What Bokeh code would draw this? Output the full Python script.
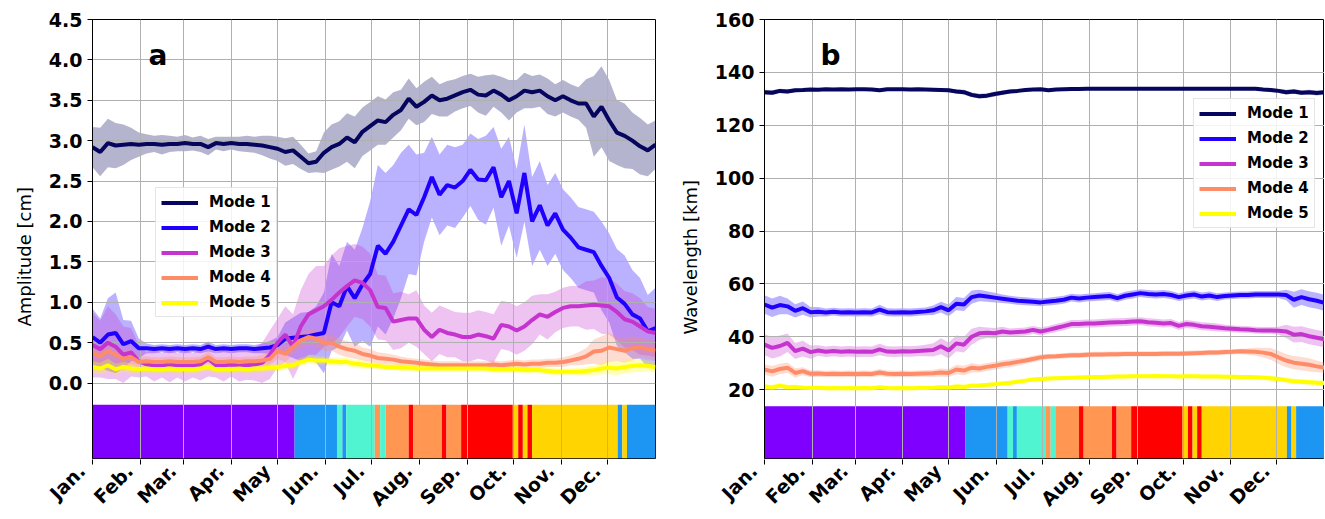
import math
import numpy as np
from bokeh.plotting import figure
from bokeh.layouts import row, column
from bokeh.models import (ColumnDataSource, FixedTicker, PrintfTickFormatter,
                          Legend, LegendItem, Label, Range1d, Title)
from bokeh.embed import file_html
from bokeh.resources import INLINE

# ---------------- data ----------------
DAYS = list(range(0, 366, 5))          # day of year, sampled every 5 days
MONTH_START = [0, 31, 59, 90, 120, 151, 181, 212, 243, 273, 304, 334]
MONTH_LABELS = ["Jan.", "Feb.", "Mar.", "Apr.", "May", "Jun.", "Jul.",
                "Aug.", "Sep.", "Oct.", "Nov.", "Dec."]
MODE_NAMES = ["Mode 1", "Mode 2", "Mode 3", "Mode 4", "Mode 5"]
MODE_COLORS = ["#06065e", "#1f00ff", "#c634cf", "#ff8c69", "#ffff00"]

Y_TICKS_A = [0.0, 0.5, 1.0, 1.5, 2.0, 2.5, 3.0, 3.5, 4.0, 4.5]
Y_TICKS_B = [20, 40, 60, 80, 100, 120, 140, 160]

# regime strip (day boundaries and class of each segment)
REGIME_EDGES = [0, 131, 158.5, 162, 164.5, 183, 186.5, 190, 205, 208, 226.5,
                229.5, 239, 272.5, 276, 279, 282, 285, 340.5, 343.5, 346.5, 365]
REGIME_CLASS = ["P", "B", "A", "B", "A", "O", "A", "O", "R", "O", "R",
                "O", "R", "G", "R", "G", "R", "G", "B", "G", "B"]
REGIME_COLORS = {"P": "#8000ff", "B": "#1c96f2", "A": "#50f4d0",
                 "O": "#ff9652", "R": "#ff0000", "G": "#ffd400"}

# ---- panel a: amplitude [cm] (mean and spread) ----
amp_m1 = [2.92, 2.86, 2.97, 2.94, 2.95, 2.96, 2.95, 2.96, 2.96, 2.95,
          2.96, 2.96, 2.97, 2.96, 2.96, 2.92, 2.97, 2.96, 2.97, 2.96,
          2.96, 2.95, 2.94, 2.92, 2.90, 2.86, 2.88, 2.80, 2.72, 2.74,
          2.85, 2.92, 2.96, 3.04, 2.98, 3.11, 3.18, 3.25, 3.23, 3.32,
          3.38, 3.52, 3.42, 3.48, 3.56, 3.50, 3.52, 3.56, 3.60, 3.63,
          3.57, 3.56, 3.62, 3.57, 3.50, 3.55, 3.62, 3.60, 3.62, 3.55,
          3.50, 3.55, 3.50, 3.46, 3.46, 3.30, 3.42, 3.25, 3.10, 3.06,
          3.00, 2.93, 2.88, 2.95]
amp_s1 = [0.25, 0.30, 0.30, 0.28, 0.25, 0.20, 0.15, 0.12, 0.10, 0.12,
          0.10, 0.09, 0.10, 0.08, 0.10, 0.10, 0.08, 0.09, 0.08, 0.09,
          0.10, 0.10, 0.12, 0.14, 0.15, 0.17, 0.17, 0.15, 0.12, 0.13,
          0.25, 0.28, 0.28, 0.30, 0.32, 0.30, 0.30, 0.30, 0.28, 0.28,
          0.25, 0.25, 0.23, 0.25, 0.23, 0.20, 0.22, 0.20, 0.20, 0.20,
          0.22, 0.25, 0.20, 0.22, 0.25, 0.20, 0.22, 0.20, 0.20, 0.22,
          0.20, 0.20, 0.20, 0.20, 0.30, 0.50, 0.50, 0.50, 0.40, 0.40,
          0.35, 0.35, 0.32, 0.30]
amp_m2 = [0.57, 0.50, 0.60, 0.62, 0.48, 0.52, 0.43, 0.43, 0.42, 0.43,
          0.42, 0.43, 0.42, 0.43, 0.42, 0.45, 0.42, 0.43, 0.42, 0.43,
          0.43, 0.42, 0.43, 0.44, 0.47, 0.55, 0.56, 0.57, 0.58, 0.60,
          0.62, 1.00, 0.95, 1.20, 1.05, 1.22, 1.35, 1.70, 1.60, 1.75,
          1.95, 2.15, 2.08, 2.30, 2.55, 2.33, 2.45, 2.42, 2.50, 2.64,
          2.52, 2.51, 2.67, 2.30, 2.50, 2.10, 2.60, 2.00, 2.20, 1.95,
          2.10, 1.90, 1.80, 1.68, 1.65, 1.62, 1.45, 1.30, 1.06, 0.98,
          0.85, 0.80, 0.64, 0.68]
amp_s2 = [0.35, 0.30, 0.45, 0.50, 0.30, 0.25, 0.12, 0.06, 0.05, 0.05,
          0.05, 0.05, 0.05, 0.05, 0.05, 0.06, 0.05, 0.05, 0.05, 0.05,
          0.05, 0.05, 0.06, 0.08, 0.10, 0.20, 0.25, 0.30, 0.30, 0.35,
          0.50, 0.60, 0.50, 0.55, 0.60, 0.70, 0.90, 1.00, 1.00, 0.95,
          0.90, 0.80, 0.75, 0.55, 0.50, 0.50, 0.50, 0.50, 0.45, 0.45,
          0.50, 0.55, 0.50, 0.60, 0.55, 0.55, 0.60, 0.55, 0.55, 0.50,
          0.50, 0.50, 0.50, 0.50, 0.50, 0.50, 0.55, 0.55, 0.60, 0.60,
          0.55, 0.50, 0.45, 0.50]
amp_m3 = [0.47, 0.42, 0.50, 0.45, 0.35, 0.38, 0.27, 0.23, 0.22, 0.22,
          0.23, 0.22, 0.22, 0.22, 0.23, 0.30, 0.22, 0.22, 0.23, 0.22,
          0.22, 0.23, 0.25, 0.35, 0.50, 0.60, 0.45, 0.70, 0.85, 0.90,
          0.95, 1.03, 1.12, 1.20, 1.27, 1.24, 1.15, 0.94, 0.93, 0.76,
          0.78, 0.80, 0.80, 0.66, 0.57, 0.66, 0.62, 0.60, 0.57, 0.57,
          0.60, 0.58, 0.55, 0.72, 0.70, 0.65, 0.70, 0.78, 0.85, 0.82,
          0.88, 0.93, 0.95, 0.95, 0.96, 0.97, 0.96, 0.95, 0.88, 0.79,
          0.76, 0.70, 0.64, 0.62]
amp_s3 = [0.40, 0.35, 0.45, 0.40, 0.35, 0.30, 0.20, 0.15, 0.20, 0.15,
          0.22, 0.15, 0.20, 0.15, 0.20, 0.22, 0.15, 0.20, 0.15, 0.20,
          0.18, 0.20, 0.25, 0.30, 0.30, 0.35, 0.40, 0.45, 0.50, 0.55,
          0.50, 0.55, 0.55, 0.50, 0.45, 0.45, 0.45, 0.40, 0.40, 0.35,
          0.35, 0.30, 0.35, 0.30, 0.30, 0.30, 0.30, 0.28, 0.30, 0.30,
          0.30, 0.30, 0.30, 0.30, 0.30, 0.30, 0.30, 0.30, 0.25, 0.28,
          0.25, 0.25, 0.25, 0.25, 0.30, 0.30, 0.35, 0.35, 0.35, 0.35,
          0.35, 0.35, 0.30, 0.30]
amp_m4 = [0.38, 0.33, 0.40, 0.35, 0.30, 0.32, 0.26, 0.27, 0.26, 0.26,
          0.27, 0.26, 0.26, 0.26, 0.27, 0.32, 0.26, 0.26, 0.27, 0.26,
          0.27, 0.27, 0.28, 0.30, 0.40, 0.36, 0.45, 0.53, 0.57, 0.55,
          0.50, 0.50, 0.45, 0.42, 0.40, 0.36, 0.34, 0.31, 0.30, 0.29,
          0.27, 0.26, 0.25, 0.24, 0.23, 0.22, 0.22, 0.22, 0.22, 0.22,
          0.22, 0.22, 0.23, 0.22, 0.23, 0.24, 0.23, 0.24, 0.24, 0.25,
          0.25, 0.26, 0.28, 0.30, 0.33, 0.39, 0.40, 0.44, 0.42, 0.40,
          0.43, 0.44, 0.42, 0.40]
amp_s4 = [0.12, 0.12, 0.14, 0.12, 0.10, 0.10, 0.07, 0.06, 0.06, 0.06,
          0.06, 0.06, 0.06, 0.06, 0.06, 0.07, 0.06, 0.06, 0.06, 0.06,
          0.06, 0.06, 0.07, 0.08, 0.10, 0.10, 0.10, 0.10, 0.10, 0.10,
          0.10, 0.10, 0.10, 0.10, 0.10, 0.08, 0.08, 0.07, 0.07, 0.06,
          0.06, 0.05, 0.05, 0.05, 0.05, 0.05, 0.05, 0.05, 0.05, 0.05,
          0.05, 0.05, 0.05, 0.05, 0.05, 0.05, 0.05, 0.05, 0.05, 0.05,
          0.05, 0.06, 0.06, 0.08, 0.10, 0.15, 0.18, 0.18, 0.15, 0.15,
          0.15, 0.12, 0.12, 0.12]
amp_m5 = [0.20, 0.18, 0.22, 0.17, 0.20, 0.18, 0.17, 0.18, 0.17, 0.17,
          0.18, 0.17, 0.17, 0.17, 0.18, 0.20, 0.17, 0.17, 0.17, 0.18,
          0.17, 0.18, 0.18, 0.19, 0.20, 0.21, 0.22, 0.26, 0.29, 0.28,
          0.28, 0.27, 0.26, 0.26, 0.24, 0.23, 0.22, 0.21, 0.20, 0.20,
          0.19, 0.19, 0.18, 0.18, 0.18, 0.18, 0.18, 0.18, 0.18, 0.18,
          0.18, 0.18, 0.17, 0.17, 0.17, 0.17, 0.16, 0.16, 0.16, 0.15,
          0.14, 0.14, 0.14, 0.14, 0.15, 0.16, 0.18, 0.19, 0.18, 0.20,
          0.21, 0.22, 0.21, 0.20]
amp_s5 = [0.07, 0.07, 0.08, 0.07, 0.06, 0.06, 0.05, 0.05, 0.05, 0.05,
          0.05, 0.05, 0.05, 0.05, 0.05, 0.05, 0.05, 0.05, 0.05, 0.05,
          0.05, 0.05, 0.05, 0.05, 0.05, 0.05, 0.05, 0.05, 0.05, 0.05,
          0.05, 0.05, 0.05, 0.05, 0.05, 0.05, 0.04, 0.04, 0.04, 0.04,
          0.04, 0.04, 0.04, 0.04, 0.04, 0.04, 0.04, 0.04, 0.04, 0.04,
          0.04, 0.04, 0.04, 0.04, 0.04, 0.04, 0.04, 0.04, 0.04, 0.04,
          0.04, 0.04, 0.04, 0.05, 0.05, 0.06, 0.07, 0.08, 0.08, 0.08,
          0.08, 0.08, 0.07, 0.07]

# ---- panel b: wavelength [km] (mean and spread) ----
wl_m1 = [132.5, 132.3, 133.0, 132.8, 133.2, 133.3, 133.5, 133.4, 133.6, 133.5,
         133.6, 133.5, 133.6, 133.6, 133.5, 133.2, 133.6, 133.6, 133.6, 133.5,
         133.6, 133.5, 133.4, 133.3, 133.2, 132.8, 132.5, 131.5, 131.0, 131.2,
         131.8, 132.3, 132.8, 133.0, 133.3, 133.5, 133.6, 133.2, 133.5, 133.6,
         133.7, 133.7, 133.8, 133.8, 133.8, 133.8, 133.8, 133.8, 133.8, 133.8,
         133.8, 133.8, 133.8, 133.8, 133.8, 133.8, 133.8, 133.8, 133.8, 133.8,
         133.8, 133.8, 133.8, 133.8, 133.8, 133.5, 133.3, 133.0, 132.5, 132.8,
         132.3, 132.5, 132.2, 132.5]
wl_s1 = [0.9, 0.9, 0.8, 0.8, 0.7, 0.6, 0.5, 0.5, 0.5, 0.5,
         0.5, 0.5, 0.5, 0.5, 0.5, 0.5, 0.5, 0.5, 0.5, 0.5,
         0.5, 0.5, 0.6, 0.6, 0.7, 0.8, 0.9, 0.9, 0.9, 0.9,
         0.9, 0.8, 0.7, 0.6, 0.5, 0.5, 0.5, 0.5, 0.5, 0.4,
         0.4, 0.4, 0.4, 0.4, 0.4, 0.4, 0.4, 0.4, 0.4, 0.4,
         0.4, 0.4, 0.4, 0.4, 0.4, 0.4, 0.4, 0.4, 0.4, 0.4,
         0.4, 0.4, 0.4, 0.4, 0.5, 0.6, 0.7, 0.8, 0.9, 0.9,
         0.9, 0.9, 0.9, 0.9]
wl_m2 = [52.2, 51.0, 52.0, 51.5, 49.8, 50.8, 49.3, 49.5, 49.2, 49.5,
         49.2, 49.3, 49.2, 49.3, 49.2, 50.3, 49.3, 49.2, 49.3, 49.2,
         49.4, 49.6, 50.0, 51.2, 50.0, 52.5, 52.2, 55.0, 55.6, 55.2,
         54.8, 54.4, 54.0, 53.6, 53.4, 53.2, 53.0, 53.3, 53.6, 54.0,
         54.8, 54.5, 54.8, 55.0, 55.2, 55.4, 54.6, 55.5, 56.0, 56.5,
         56.2, 56.0, 56.2, 55.8, 55.0, 55.6, 56.0, 55.2, 55.6, 55.0,
         55.4, 55.6, 55.8, 55.8, 56.0, 56.0, 56.0, 56.0, 55.8, 54.0,
         55.0, 54.2, 53.6, 52.8]
wl_s2 = [3.5, 3.5, 3.5, 3.0, 2.5, 2.5, 2.0, 1.8, 1.5, 1.5,
         1.5, 1.5, 1.5, 1.5, 1.5, 1.8, 1.5, 1.5, 1.5, 1.5,
         1.5, 1.5, 1.8, 2.0, 2.2, 2.5, 2.5, 2.5, 2.2, 2.0,
         1.8, 1.6, 1.5, 1.5, 1.5, 1.5, 1.5, 1.5, 1.5, 1.5,
         1.5, 1.5, 1.5, 1.5, 1.5, 1.5, 1.5, 1.5, 1.5, 1.5,
         1.5, 1.5, 1.5, 1.5, 1.5, 1.5, 1.5, 1.5, 1.5, 1.5,
         1.3, 1.3, 1.3, 1.3, 1.3, 1.3, 1.3, 1.3, 2.0, 3.0,
         3.0, 3.0, 3.0, 3.0]
wl_m3 = [37.0, 35.8, 36.5, 37.7, 34.6, 35.5, 34.2, 34.8, 34.3, 34.6,
         34.3, 34.5, 34.3, 34.4, 34.3, 35.2, 34.4, 34.3, 34.5, 34.4,
         34.6, 34.8, 35.0, 36.4, 34.8, 37.5, 37.0, 40.0, 41.3, 41.5,
         41.3, 42.0, 41.6, 41.8, 42.0, 42.6, 42.0, 42.6, 43.3, 44.0,
         44.8, 44.8, 45.0, 45.0, 45.2, 45.4, 45.5, 45.6, 45.8, 45.9,
         45.5, 45.3, 45.0, 45.2, 44.1, 44.8, 44.5, 44.0, 43.8, 43.5,
         43.2, 43.0, 42.8, 42.7, 42.5, 42.4, 42.4, 42.3, 42.0, 40.8,
         41.0, 40.2, 39.6, 39.0]
wl_s3 = [4.0, 4.0, 4.0, 3.5, 3.0, 3.0, 2.5, 2.0, 2.0, 2.0,
         2.0, 2.0, 2.0, 2.0, 2.0, 2.2, 2.0, 2.0, 2.0, 2.0,
         2.0, 2.2, 2.5, 3.0, 3.0, 3.0, 3.0, 3.0, 2.5, 2.0,
         2.0, 1.8, 1.5, 1.5, 1.5, 1.5, 1.5, 1.5, 1.5, 1.5,
         1.5, 1.5, 1.5, 1.5, 1.5, 1.5, 1.5, 1.5, 1.5, 1.5,
         1.5, 1.5, 1.5, 1.5, 1.5, 1.5, 1.5, 1.5, 1.5, 1.5,
         1.3, 1.3, 1.3, 1.3, 1.3, 1.3, 1.3, 1.5, 2.5, 3.0,
         3.0, 3.0, 3.0, 3.0]
wl_m4 = [27.6, 26.9, 27.8, 28.3, 26.3, 27.0, 26.0, 26.1, 25.9, 26.0,
         25.9, 26.0, 25.9, 26.0, 25.9, 26.5, 26.0, 25.9, 26.0, 25.9,
         26.0, 26.1, 26.2, 26.5, 26.3, 27.6, 27.2, 28.3, 28.0, 28.6,
         29.0, 29.6, 30.0, 30.5, 31.0, 31.6, 32.2, 32.5, 32.6, 32.8,
         33.0, 33.0, 33.2, 33.3, 33.3, 33.4, 33.4, 33.5, 33.5, 33.5,
         33.5, 33.5, 33.6, 33.6, 33.6, 33.7, 33.8, 33.9, 34.0, 34.0,
         34.2, 34.3, 34.5, 34.4, 34.3, 34.0, 33.5, 32.2, 31.0, 30.2,
         29.8, 29.4, 28.8, 28.3]
wl_s4 = [2.0, 2.0, 2.0, 2.0, 1.8, 1.5, 1.3, 1.2, 1.2, 1.2,
         1.2, 1.2, 1.2, 1.2, 1.2, 1.3, 1.2, 1.2, 1.2, 1.2,
         1.2, 1.2, 1.3, 1.5, 1.5, 1.8, 1.8, 1.8, 1.5, 1.5,
         1.5, 1.5, 1.5, 1.5, 1.2, 1.2, 1.2, 1.0, 1.0, 1.0,
         1.0, 1.0, 1.0, 1.0, 1.0, 1.0, 1.0, 1.0, 1.0, 1.0,
         1.0, 1.0, 1.0, 1.0, 1.0, 1.0, 1.0, 1.0, 1.0, 1.0,
         1.0, 1.0, 1.0, 1.2, 1.5, 1.8, 2.2, 2.5, 2.5, 2.5,
         2.5, 2.5, 2.2, 2.0]
wl_m5 = [21.2, 20.8, 21.5, 20.9, 21.0, 20.7, 20.6, 20.7, 20.5, 20.6,
         20.5, 20.6, 20.5, 20.6, 20.5, 20.9, 20.6, 20.5, 20.6, 20.5,
         20.6, 20.6, 20.7, 20.9, 20.8, 21.2, 21.0, 21.5, 21.6, 21.8,
         22.0, 22.3, 22.6, 23.0, 23.4, 23.8, 24.0, 24.2, 24.3, 24.4,
         24.5, 24.6, 24.7, 24.8, 24.8, 24.9, 25.0, 25.0, 25.1, 25.1,
         25.1, 25.2, 25.1, 25.1, 25.0, 25.1, 25.1, 25.0, 25.0, 25.0,
         24.9, 24.9, 24.8, 24.8, 24.7, 24.5, 24.3, 24.0, 23.6, 23.2,
         23.0, 22.8, 22.6, 22.5]
wl_s5 = [1.0, 1.0, 1.0, 0.9, 0.8, 0.8, 0.7, 0.7, 0.7, 0.7,
         0.7, 0.7, 0.7, 0.7, 0.7, 0.7, 0.7, 0.7, 0.7, 0.7,
         0.7, 0.7, 0.7, 0.8, 0.8, 0.9, 0.9, 0.9, 0.8, 0.8,
         0.8, 0.8, 0.8, 0.8, 0.7, 0.7, 0.7, 0.7, 0.7, 0.7,
         0.7, 0.7, 0.7, 0.7, 0.7, 0.7, 0.7, 0.7, 0.7, 0.7,
         0.7, 0.7, 0.7, 0.7, 0.7, 0.7, 0.7, 0.7, 0.7, 0.7,
         0.7, 0.7, 0.7, 0.7, 0.8, 0.9, 1.0, 1.0, 1.0, 1.0,
         1.0, 1.0, 1.0, 1.0]

AMP_MEANS = [amp_m1, amp_m2, amp_m3, amp_m4, amp_m5]
AMP_SPREADS = [amp_s1, amp_s2, amp_s3, amp_s4, amp_s5]
WL_MEANS = [wl_m1, wl_m2, wl_m3, wl_m4, wl_m5]
WL_SPREADS = [wl_s1, wl_s2, wl_s3, wl_s4, wl_s5]

for arr in AMP_MEANS + AMP_SPREADS + WL_MEANS + WL_SPREADS:
    assert len(arr) == len(DAYS), len(arr)

FONT = "DejaVu Sans"
LABEL_SHIFT = 7     # days: rotated month labels end at their tick
LABEL_EXT = 24      # px: label strip extends left of the plot frame
TOP_H = 459         # plot row: frame 19..458
LAB_H = 60          # tick + month-label row


def make_panel(letter, means, spreads, y_start, y_end, strip_top, y_ticks,
               y_fmt, y_label, label_offset, legend_loc, border_left, frame_w,
               border_right):
    p = figure(width=border_left + frame_w + border_right, height=TOP_H,
               output_backend="svg", toolbar_location=None,
               x_range=Range1d(0, 365), y_range=Range1d(y_start, y_end),
               min_border_left=border_left, min_border_right=border_right,
               min_border_top=19, min_border_bottom=TOP_H - 19 - 439)
    p.background_fill_color = "white"
    p.border_fill_color = "white"
    p.outline_line_color = "black"
    p.outline_line_width = 1

    # regime strip
    strip = ColumnDataSource(dict(
        left=REGIME_EDGES[:-1], right=REGIME_EDGES[1:],
        color=[REGIME_COLORS[c] for c in REGIME_CLASS]))
    p.quad(left="left", right="right", bottom=y_start, top=strip_top,
           fill_color="color", line_color=None, source=strip, level="image")

    # spread bands
    for m, s, col in zip(means, spreads, MODE_COLORS):
        m_ = np.array(m)
        s_ = np.array(s)
        p.varea(x=DAYS, y1=m_ - s_, y2=m_ + s_, fill_color=col,
                fill_alpha=0.3, level="image")

    items = []
    for m, name, col in zip(means, MODE_NAMES, MODE_COLORS):
        r = p.line(DAYS, m, line_color=col, line_width=4)
        items.append(LegendItem(label=name, renderers=[r]))

    legend = Legend(items=items, location=legend_loc,
                    label_text_font=FONT, label_text_font_size="15px",
                    label_text_font_style="bold", label_text_color="black",
                    glyph_width=37, glyph_height=17, label_height=17,
                    label_standoff=11, spacing=7, padding=5, margin=0,
                    border_line_color="#cccccc", border_line_width=1,
                    background_fill_color="white", background_fill_alpha=0.85)
    p.add_layout(legend, "center")

    # the x axis (ticks + labels) lives in the strip figure below
    p.xaxis.visible = False

    ya = p.yaxis[0]
    ya.ticker = FixedTicker(ticks=y_ticks)
    ya.formatter = PrintfTickFormatter(format=y_fmt)
    ya.axis_line_color = "black"
    ya.major_tick_line_color = "black"
    ya.major_tick_in = 0
    ya.major_tick_out = 5
    ya.minor_tick_line_color = None
    ya.major_label_text_font = FONT
    ya.major_label_text_font_size = "19px"
    ya.major_label_text_font_style = "bold"
    ya.major_label_text_color = "black"
    ya.major_label_standoff = 5

    # y label as a side title (starts a little above the frame bottom)
    p.add_layout(Title(text=y_label, align="left", offset=label_offset,
                       standoff=21, text_font=FONT, text_font_size="18px",
                       text_font_style="normal", text_color="black"), "left")

    p.xgrid.ticker = FixedTicker(ticks=MONTH_START)
    p.ygrid.ticker = FixedTicker(ticks=y_ticks)
    for g in (p.xgrid, p.ygrid):
        g.grid_line_color = "#b0b0b0"
        g.grid_line_width = 1

    p.add_layout(Label(x=56, y=403, x_units="screen", y_units="screen",
                       text=letter, text_font=FONT, text_font_size="28px",
                       text_font_style="bold", text_color="black",
                       text_baseline="alphabetic"))

    # tick + month-label strip: same day scale, frame extended to the left
    ext_days = LABEL_EXT * 365.0 / frame_w
    shifted = [d - LABEL_SHIFT for d in MONTH_START]
    q = figure(width=border_left + frame_w + border_right, height=LAB_H,
               output_backend="svg", toolbar_location=None,
               x_range=Range1d(-ext_days, 365), y_range=Range1d(0, 1),
               min_border_left=border_left - LABEL_EXT,
               min_border_right=border_right, min_border_top=0,
               min_border_bottom=LAB_H - 1)
    q.outline_line_color = None
    q.background_fill_color = "white"
    q.border_fill_color = "white"
    q.grid.visible = False
    q.yaxis.visible = False
    qa = q.xaxis[0]
    qa.ticker = FixedTicker(ticks=shifted, minor_ticks=MONTH_START)
    qa.major_label_overrides = {s: lab for s, lab in zip(shifted, MONTH_LABELS)}
    qa.major_label_orientation = math.pi / 4
    qa.axis_line_color = None
    qa.major_tick_line_color = None
    qa.major_tick_in = 0
    qa.major_tick_out = 5
    qa.minor_tick_line_color = "black"
    qa.minor_tick_in = 0
    qa.minor_tick_out = 5
    qa.major_label_standoff = 3
    qa.major_label_text_font = FONT
    qa.major_label_text_font_size = "19px"
    qa.major_label_text_font_style = "bold"
    qa.major_label_text_color = "black"
    return p, q


pa, la = make_panel("a", AMP_MEANS, AMP_SPREADS, -0.934, 4.5, -0.27, Y_TICKS_A,
                    "%.1f", "Amplitude [cm]", 132, (63, 141), 92, 563, 10)
pb, lb = make_panel("b", WL_MEANS, WL_SPREADS, -6.05, 160, 13.7, Y_TICKS_B,
                    "%d", "Wavelength [km]", 124, (429, 230), 99, 560, 0)

layout = column(row(pa, pb), row(la, lb))
open("out.html", "w").write(file_html(layout, INLINE))
